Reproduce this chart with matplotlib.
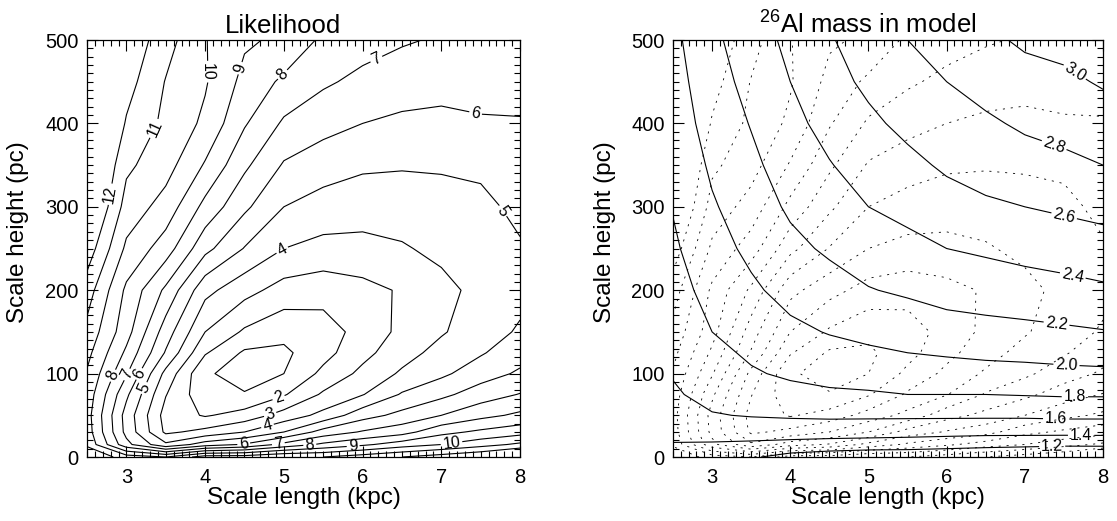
import numpy as np
import matplotlib
matplotlib.use('Agg')
import matplotlib.pyplot as plt
from matplotlib.ticker import MultipleLocator

plt.rcParams['font.family'] = ['Liberation Sans', 'DejaVu Sans']
plt.rcParams['mathtext.fontset'] = 'custom'
plt.rcParams['mathtext.rm'] = 'Liberation Sans'

# grid of the model scan
scale_length = [2.5, 3.0, 3.5, 4.0, 4.5, 5.0, 5.5, 6.0, 6.5, 7.0, 7.5, 8.0]
scale_height = [0, 15, 30, 50, 75, 100, 125, 150, 200, 250, 300, 350, 400, 450, 500]

# likelihood, one row per scale height
likelihood = [
    [11.0, 9.5, 9.0, 10.5, 10.5, 11.0, 11.0, 11.5, 12.0, 12.5, 13.0, 14.0],
    [9.8, 6.3, 4.2, 5.5, 6.1, 7.3, 8.2, 8.8, 9.5, 10.0, 10.6, 11.2],
    [9.5, 5.7, 2.8, 3.3, 4.0, 5.0, 6.4, 7.1, 7.6, 8.7, 9.2, 9.6],
    [9.4, 5.6, 2.6, 1.9, 2.4, 3.4, 4.3, 5.6, 6.3, 7.0, 7.7, 8.2],
    [9.6, 6.2, 3.05, 1.3, 1.05, 1.9, 3.15, 3.95, 5.1, 5.75, 6.5, 7.05],
    [9.9, 7.1, 3.7, 1.1, 0.7, 1.0, 2.25, 3.25, 4.15, 4.8, 5.55, 6.15],
    [10.3, 7.8, 4.9, 2.1, 0.85, 0.8, 1.65, 2.7, 3.6, 4.35, 4.9, 5.6],
    [10.7, 8.4, 5.5, 3.0, 1.85, 1.3, 1.55, 2.35, 3.25, 3.9, 4.55, 5.12],
    [11.5, 8.8, 6.8, 4.3, 3.35, 2.6, 2.4, 2.7, 3.1, 3.7, 4.3, 4.7],
    [12.6, 9.8, 8.5, 6.3, 4.95, 4.0, 3.7, 3.7, 3.9, 4.25, 4.4, 4.9],
    [13.6, 10.6, 9.6, 7.7, 6.2, 5.0, 4.6, 4.45, 4.5, 4.65, 4.75, 5.25],
    [14.0, 11.2, 10.4, 8.9, 7.2, 5.9, 5.45, 5.15, 5.08, 5.1, 5.2, 5.6],
    [14.3, 11.9, 10.75, 9.8, 8.1, 6.85, 6.35, 6.0, 5.8, 5.75, 5.9, 5.95],
    [14.6, 12.4, 10.95, 10.1, 8.7, 7.8, 7.15, 6.75, 6.5, 6.35, 6.35, 6.25],
    [14.8, 12.8, 11.4, 10.05, 9.15, 8.8, 7.8, 7.4, 7.1, 6.9, 6.7, 6.55],
]

# 26Al mass in the model
al_mass = [
    [1.28, 1.25, 1.22, 1.14, 1.10, 1.07, 1.07, 1.06, 1.05, 1.03, 1.00, 0.95],
    [1.39, 1.38, 1.36, 1.33, 1.31, 1.30, 1.29, 1.27, 1.25, 1.24, 1.23, 1.24],
    [1.45, 1.48, 1.50, 1.51, 1.50, 1.49, 1.48, 1.47, 1.46, 1.46, 1.46, 1.46],
    [1.52, 1.59, 1.61, 1.62, 1.63, 1.63, 1.63, 1.63, 1.63, 1.63, 1.64, 1.64],
    [1.58, 1.65, 1.70, 1.74, 1.77, 1.78, 1.80, 1.80, 1.80, 1.81, 1.82, 1.82],
    [1.61, 1.70, 1.78, 1.83, 1.86, 1.88, 1.90, 1.92, 1.93, 1.94, 1.95, 1.96],
    [1.64, 1.75, 1.83, 1.90, 1.94, 1.97, 2.00, 2.02, 2.04, 2.05, 2.07, 2.08],
    [1.67, 1.80, 1.88, 1.96, 2.01, 2.05, 2.07, 2.12, 2.14, 2.15, 2.17, 2.19],
    [1.72, 1.87, 1.97, 2.06, 2.12, 2.19, 2.23, 2.27, 2.29, 2.32, 2.34, 2.37],
    [1.77, 1.93, 2.04, 2.15, 2.23, 2.30, 2.35, 2.40, 2.43, 2.46, 2.49, 2.52],
    [1.81, 1.98, 2.10, 2.23, 2.31, 2.40, 2.45, 2.52, 2.57, 2.60, 2.63, 2.66],
    [1.85, 2.03, 2.16, 2.29, 2.39, 2.48, 2.55, 2.63, 2.68, 2.72, 2.76, 2.80],
    [1.89, 2.08, 2.21, 2.35, 2.46, 2.56, 2.65, 2.72, 2.77, 2.83, 2.86, 2.91],
    [1.92, 2.12, 2.26, 2.40, 2.53, 2.64, 2.72, 2.80, 2.87, 2.93, 2.96, 3.02],
    [1.95, 2.16, 2.30, 2.45, 2.58, 2.71, 2.80, 2.88, 2.96, 3.03, 3.06, 3.12],
]

like_levels = [1, 2, 3, 4, 5, 6, 7, 8, 9, 10, 11, 12]
mass_levels = [1.2, 1.4, 1.6, 1.8, 2.0, 2.2, 2.4, 2.6, 2.8, 3.0]

# where the labels sit on the lines
like_label_pos = [(4.93, 72), (4.83, 50), (4.79, 38), (5.0, 245), (3.29, 80),
                  (7.70, 290), (4.49, 16), (3.22, 97), (7.43, 410), (4.93, 16),
                  (3.05, 97), (6.18, 476), (5.33, 14), (2.9, 95), (4.97, 460),
                  (5.88, 13), (4.45, 466), (7.13, 16), (3.99, 462), (3.27, 398),
                  (2.8, 315)]
mass_label_pos = [(7.6, 456), (7.36, 370), (7.49, 284), (7.6, 212), (7.4, 156),
                  (7.53, 106), (7.64, 72), (7.4, 44), (7.72, 24), (7.35, 11)]

X, Y = np.meshgrid(scale_length, scale_height)
L = np.array(likelihood)
M = np.array(al_mass)


def setup(ax, title):
    ax.set_xlim(2.5, 8)
    ax.set_ylim(0, 500)
    ax.set_xticks([3, 4, 5, 6, 7, 8])
    ax.set_yticks([0, 100, 200, 300, 400, 500])
    ax.xaxis.set_minor_locator(MultipleLocator(0.1))
    ax.yaxis.set_minor_locator(MultipleLocator(10))
    ax.tick_params(which='both', direction='in', top=True, right=True,
                   width=0.8, labelsize=14.5)
    ax.tick_params(which='major', length=8, pad=6)
    ax.tick_params(axis='x', which='major', pad=8)
    ax.tick_params(which='minor', length=4)
    for s in ax.spines.values():
        s.set_linewidth(0.9)
    ax.set_xlabel('Scale length (kpc)', fontsize=17.5, labelpad=0)
    ax.set_ylabel('Scale height (pc)', fontsize=17.5)
    ax.yaxis.set_label_coords(-0.133, 0.54)
    ax.set_title(title, fontsize=18.5, pad=5, x=0.452)


fig = plt.figure(figsize=(11.17, 5.21), dpi=100)
ax1 = fig.add_axes([0.0779, 0.1228, 0.3877, 0.8004])
ax2 = fig.add_axes([0.6025, 0.1228, 0.385, 0.8004])

setup(ax1, 'Likelihood')
cs1 = ax1.contour(X, Y, L, levels=like_levels, colors='black', linewidths=0.8)
ax1.clabel(cs1, fmt='%d', fontsize=11.5, inline=True,
           inline_spacing=2, manual=like_label_pos)

setup(ax2, r'$^{\mathrm{26}}$Al mass in model')
ax2.contour(X, Y, L, levels=like_levels, colors='black', linewidths=0.6,
            linestyles=[(0, (2.5, 7))])
cs2 = ax2.contour(X, Y, M, levels=mass_levels, colors='black', linewidths=0.8)
ax2.clabel(cs2, fmt='%.1f', fontsize=11.5, inline=True, inline_spacing=2,
           manual=mass_label_pos)

fig.savefig('out.png', dpi=100)
